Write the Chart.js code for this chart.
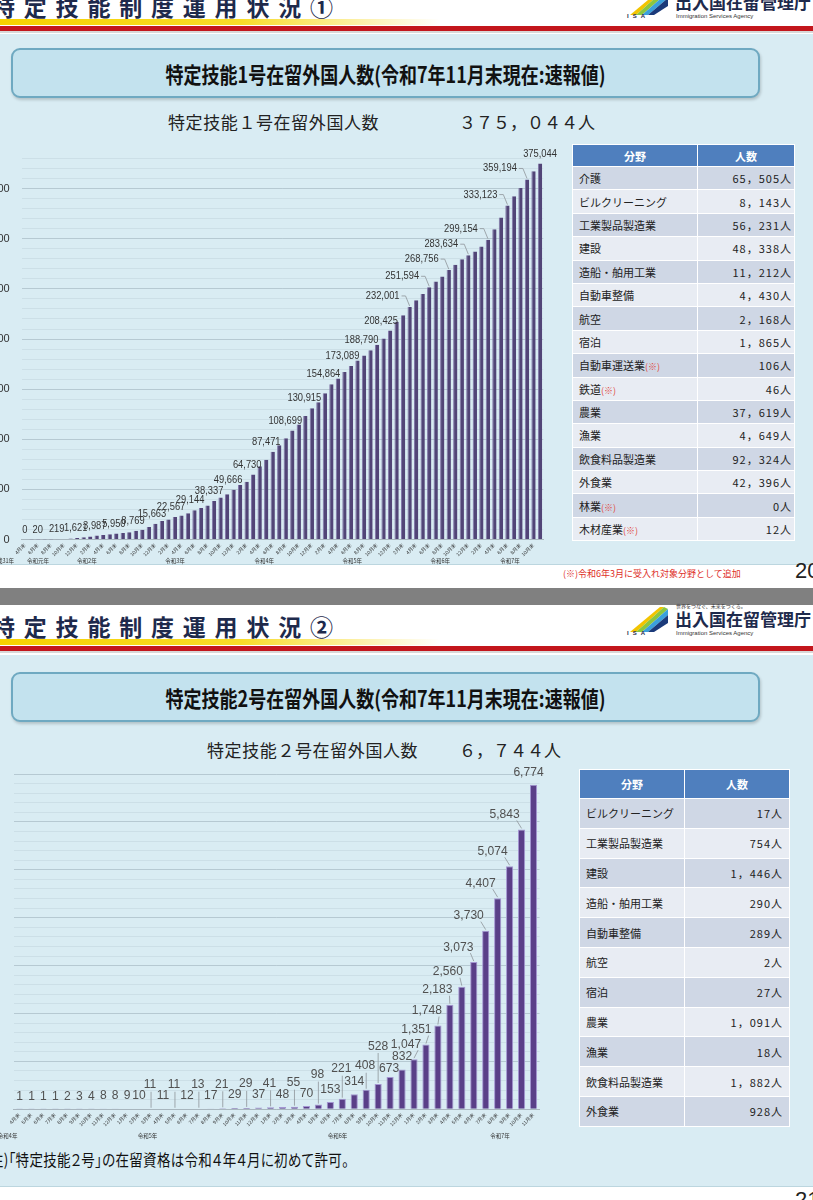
<!DOCTYPE html>
<html lang="ja">
<head>
<meta charset="utf-8">
<title>特定技能制度運用状況</title>
<script src="https://cdn.jsdelivr.net/npm/chart.js@4.4.1/dist/chart.umd.min.js"></script>
<style>
  html, body { margin: 0; padding: 0; background: #fff; }
  body { width: 813px; height: 1200px; position: relative; overflow: hidden;
         font-family: "Noto Sans CJK JP", "Noto Sans", sans-serif; color: #222; }
  .band { position: absolute; left: 0; width: 813px; background: #d9ecf3; border-bottom: 1px solid #bcd6df; }
  .title { position: absolute; left: -8px; font-size: 23px; line-height: 23px; font-weight: 700;
           letter-spacing: 8.8px; color: #1e2a4c; white-space: nowrap; }
  .yellow { position: absolute; left: 0; width: 440px; height: 6px;
            background: linear-gradient(to right, #f6d200 0%, #f8dc2a 55%, rgba(248,220,42,0) 100%); }
  .red { position: absolute; left: 0; width: 813px; height: 5px; background: #c3161c; border-bottom: 2px solid #d8d8d8; }
  .logo { position: absolute; left: 620px; width: 193px; height: 40px; }
  .logo svg { position: absolute; left: 10px; top: 7px; }
  .logo .isa { position: absolute; left: 7px; top: 30px; font: 700 6px "Liberation Sans", sans-serif; letter-spacing: 4px; color: #1e2a4c; }
  .logo .tag { position: absolute; left: 56px; top: 3px; font-size: 5px; line-height: 6px; color: #333; white-space: nowrap; }
  .logo .org { position: absolute; left: 55px; top: 9px; font-size: 17px; line-height: 20px; font-weight: 700; color: #1e2a4c; white-space: nowrap; }
  .logo .eng { position: absolute; left: 56px; top: 30px; font: 6px "Liberation Sans", sans-serif; color: #333; white-space: nowrap; }
  .box { position: absolute; left: 11px; width: 745px; height: 46px; background: #c3e2ee;
         border: 2px solid #6fa9c1; border-radius: 9px; box-shadow: 1px 2px 3px rgba(0,0,0,0.18);
         text-align: center; line-height: 46px; }
  .box span { display: inline-block; font-size: 18px; font-weight: 700; color: #111; transform: scaleY(1.22); }
  .sub { position: absolute; font-size: 17px; line-height: 20px; color: #222; white-space: nowrap; letter-spacing: 0.6px; }
  .gray { position: absolute; left: 0; top: 588px; width: 813px; height: 17px; background: #808080; }
  .foot1 { position: absolute; left: 563px; top: 567px; font-size: 9px; color: #de2f28; white-space: nowrap; }
  .page { position: absolute; left: 795px; font: 22px "Liberation Sans", sans-serif; color: #222; }
  .note2 { position: absolute; left: -15px; top: 1150px; font-size: 13.5px; line-height: 18px; color: #111;
           white-space: nowrap; transform: scaleY(1.2); transform-origin: left center; font-feature-settings: "palt"; letter-spacing: 0.3px; }
  table.tbl { position: absolute; border-collapse: collapse; table-layout: fixed; color: #222; }
  table.tbl th { background: #4f7fbe; color: #fff; font-weight: 700; font-size: 11px; border: 1px solid #fff; padding: 0; }
  table.tbl td { border: 1px solid #fff; padding: 0 6px; font-size: 11px; white-space: nowrap; }
  table.tbl tr:nth-child(odd) td { background: #cfd7e5; }
  table.tbl tr:nth-child(even) td { background: #e8ecf3; }
  table.tbl td.num { text-align: right; letter-spacing: 1px; padding-right: 2px; }
  table.tbl .mark { color: #e0463c; font-size: 9px; }
  #t1 { left: 572px; top: 144px; width: 223px; }
  #t1 th { height: 21px; }
  #t1 td { height: 22.4px; }
  #t2 { left: 579px; top: 769px; width: 211px; }
  #t2 th { height: 28px; }
  #t2 td { height: 28.8px; }
  #t2 td.num { padding-right: 6px; }
  canvas { position: absolute; }
  #chart1 { left: -40px; top: 140px; }
  #chart2 { left: 0; top: 765px; }
</style>
</head>
<body>

<!-- slide 1 -->
<div class="title" style="top:-5px">特定技能制度運用状況①</div>
<div class="yellow" style="top:19px"></div>
<div class="red" style="top:26px"></div>
<div class="logo" style="top:-17px">
  <svg width="40" height="26" viewBox="0 0 40 26">
    <polygon points="0,25 30,0 34,0 6,25" fill="#f2c400"/>
    <polygon points="6,25 34,0 38,2 12,25" fill="#8cc63f"/>
    <polygon points="12,25 38,2 38,8 18,25" fill="#3aa0dc"/>
    <polygon points="18,25 38,8 38,16 24,25" fill="#1b3a7a"/>
  </svg>
  <div class="isa">ISA</div>
  <div class="tag">世界をつなぐ、未来をつくる。</div>
  <div class="org">出入国在留管理庁</div>
  <div class="eng">Immigration Services Agency</div>
</div>
<div class="band" style="top:34px;height:530px"></div>
<div class="box" style="top:48px"><span>特定技能1号在留外国人数(令和7年11月末現在:速報値)</span></div>
<div class="sub" style="left:168px;top:112px">特定技能１号在留外国人数</div>
<div class="sub" style="left:459px;top:112px;letter-spacing:0">３７５，０４４人</div>
<table class="tbl" id="t1"><colgroup><col style="width:125px"><col></colgroup>
  <thead><tr><th>分野</th><th>人数</th></tr></thead><tbody></tbody></table>
<div class="foot1">(※)令和6年3月に受入れ対象分野として追加</div>
<div class="page" style="top:558px">20</div>
<div class="gray"></div>

<!-- slide 2 -->
<div class="title" style="top:615px">特定技能制度運用状況②</div>
<div class="yellow" style="top:639px"></div>
<div class="red" style="top:646px"></div>
<div class="logo" style="top:600px">
  <svg width="40" height="26" viewBox="0 0 40 26">
    <polygon points="0,25 30,0 34,0 6,25" fill="#f2c400"/>
    <polygon points="6,25 34,0 38,2 12,25" fill="#8cc63f"/>
    <polygon points="12,25 38,2 38,8 18,25" fill="#3aa0dc"/>
    <polygon points="18,25 38,8 38,16 24,25" fill="#1b3a7a"/>
  </svg>
  <div class="isa">ISA</div>
  <div class="tag">世界をつなぐ、未来をつくる。</div>
  <div class="org">出入国在留管理庁</div>
  <div class="eng">Immigration Services Agency</div>
</div>
<div class="band" style="top:655px;height:531px"></div>
<div class="box" style="top:672px"><span>特定技能2号在留外国人数(令和7年11月末現在:速報値)</span></div>
<div class="sub" style="left:207px;top:740px">特定技能２号在留外国人数</div>
<div class="sub" style="left:459px;top:740px;letter-spacing:0">６，７４４人</div>
<table class="tbl" id="t2"><colgroup><col style="width:105px"><col></colgroup>
  <thead><tr><th>分野</th><th>人数</th></tr></thead><tbody></tbody></table>
<div class="note2">(注)「特定技能２号」の在留資格は令和４年４月に初めて許可。</div>
<div class="page" style="top:1187px">21</div>

<canvas id="chart1" width="610" height="440"></canvas>
<canvas id="chart2" width="560" height="385"></canvas>

<script>
// month tick labels
const monthNames = ['1月末','2月末','3月末','4月末','5月末','6月末','7月末','8月末','9月末','10月末','11月末','12月末'];

// 特定技能1号: 平成31年4月末 〜 令和7年11月末 (monthly)
const months1 = [
  ...monthNames.slice(3),
  ...monthNames, ...monthNames, ...monthNames, ...monthNames, ...monthNames,
  ...monthNames.slice(0, 11)
];
const values1 = [
  0, 5, 20, 50, 100, 219, 600, 1000, 1621,
  2200, 2900, 3987, 4600, 5200, 5950, 6600, 7200, 8769, 9800, 12500, 15663,
  18400, 20000, 22567, 23900, 26200, 29144, 31500, 33800, 38337, 41900, 45200, 49666,
  54400, 57700, 64730, 73100, 79600, 87471, 94000, 100900, 108699, 114700, 123200, 130915,
  137000, 145800, 154864, 160600, 167100, 173089, 178600, 183500, 188790, 194300, 200600, 208425,
  217300, 223800, 232001, 238600, 244800, 251594, 257300, 262500, 268756, 274000, 279500, 283634,
  287400, 292300, 299154, 309400, 321200, 333123, 342500, 350700, 359194, 367400, 375044
];
// bars that carry a number
const shown1 = [0, 2, 5, 8, 11, 14, 17, 20, 23, 26, 29, 32, 35, 38, 41, 44, 47, 50, 53, 56, 59, 62, 65, 68, 71, 74, 77, 79];
const years1 = ['平成31年', '令和元年', '令和2年', '令和3年', '令和4年', '令和5年', '令和6年', '令和7年'];
const yearAt1 = [-3.4, 2, 9.5, 23, 36.7, 50.2, 63.7, 74.4];

// 特定技能2号: 令和4年4月末 〜 令和7年11月末 (monthly)
const months2 = [...monthNames.slice(3), ...monthNames, ...monthNames, ...monthNames.slice(0, 11)];
const values2 = [
  1, 1, 1, 1, 2, 3, 4, 8, 8, 9, 10,
  11, 11, 11, 12, 13, 17, 21, 29, 29, 37,
  41, 48, 55, 70, 98, 153, 221, 314, 408, 528, 673, 832,
  1047, 1351, 1748, 2183, 2560, 3073, 3730, 4407, 5074, 5843, 6774
];
const years2 = ['令和4年', '令和5年', '令和6年', '令和7年'];
const yearAt2 = [-1, 10.7, 26.6, 40.2];

// tables
const fields1 = ['介護', 'ビルクリーニング', '工業製品製造業', '建設', '造船・舶用工業', '自動車整備', '航空', '宿泊',
  '自動車運送業(※)', '鉄道(※)', '農業', '漁業', '飲食料品製造業', '外食業', '林業(※)', '木材産業(※)'];
const counts1 = [65505, 8143, 56231, 48338, 11212, 4430, 2168, 1865, 106, 46, 37619, 4649, 92324, 42396, 0, 12];
const fields2 = ['ビルクリーニング', '工業製品製造業', '建設', '造船・舶用工業', '自動車整備', '航空', '宿泊',
  '農業', '漁業', '飲食料品製造業', '外食業'];
const counts2 = [17, 754, 1446, 290, 289, 2, 27, 1091, 18, 1882, 928];

function fmtCount(n) {
  if (n < 1000) return n + '人';
  return Math.floor(n / 1000) + '，' + String(n % 1000).padStart(3, '0') + '人';
}

function fillTable(id, names, counts) {
  const tb = document.querySelector('#' + id + ' tbody');
  names.forEach((n, i) => {
    const tr = document.createElement('tr');
    tr.innerHTML = '<td>' + n.replace('(※)', '<span class="mark">(※)</span>') + '</td><td class="num">' + fmtCount(counts[i]) + '</td>';
    tb.appendChild(tr);
  });
}
fillTable('t1', fields1, counts1);
fillTable('t2', fields2, counts2);

Chart.defaults.font.family = '"Liberation Sans", "Noto Sans CJK JP", sans-serif';

// gridline values: every `step` from 0 to max (minor + major lines)
function gridTicks(max, step) {
  return s => {
    const t = [];
    for (let v = 0; v <= max; v += step) t.push({ value: v });
    s.ticks = t;
  };
}

// number labels above bars, with leader lines; text is drawn a bit condensed
function labelPlugin(indices, place, font, color, squeeze) {
  return {
    id: 'valueLabels',
    afterDatasetsDraw(chart) {
      const ctx = chart.ctx;
      const meta = chart.getDatasetMeta(0);
      const vals = chart.data.datasets[0].data;
      ctx.save();
      ctx.font = font;
      ctx.fillStyle = color;
      ctx.strokeStyle = '#8e9499';
      ctx.lineWidth = 0.8;
      ctx.textAlign = 'center';
      ctx.textBaseline = 'middle';
      indices.forEach(i => {
        const bar = meta.data[i];
        const p = place(i);
        const text = vals[i].toLocaleString('en-US');
        const w = ctx.measureText(text).width * squeeze;
        const tx = bar.x + p.dx, ty = bar.y + p.dy;
        ctx.save();
        ctx.translate(tx, ty);
        ctx.scale(squeeze, 1);
        ctx.fillText(text, 0, 0);
        ctx.restore();
        if (!p.lead) return;
        ctx.beginPath();
        if (p.lead === 'side') {
          ctx.moveTo(tx + w / 2 + 2, ty);
          ctx.lineTo(tx + w / 2 + 6, ty);
          ctx.lineTo(bar.x, bar.y - 1);
        } else if (p.lead === 'v') {
          ctx.moveTo(bar.x, ty + 7);
          ctx.lineTo(bar.x, bar.y - 1);
        } else {
          ctx.moveTo(tx + w / 2 - 3, ty + 6);
          ctx.lineTo(bar.x, bar.y - 1);
        }
        ctx.stroke();
      });
      ctx.restore();
    }
  };
}

// era labels under the month ticks
function yearPlugin(names, at, offset) {
  return {
    id: 'yearLabels',
    afterDraw(chart) {
      const ctx = chart.ctx;
      const x = chart.scales.x;
      ctx.save();
      ctx.font = '5.5px "Noto Sans CJK JP"';
      ctx.fillStyle = '#333';
      ctx.textAlign = 'center';
      ctx.textBaseline = 'middle';
      names.forEach((n, i) => ctx.fillText(n, x.getPixelForValue(at[i]), chart.chartArea.bottom + offset));
      ctx.restore();
    }
  };
}

function place1(i) {
  if (i === 79) return { dx: 0, dy: -10 };
  if (i >= 59) return { dx: -27, dy: -11, lead: 'side' };
  return { dx: -Math.min(9, i * 0.17), dy: -10 };
}

function place2(i) {
  if (i === 43) return { dx: -5, dy: -12 };
  if (i >= 33) return { dx: -Math.min(17, 8 + (i - 33) * 1.5), dy: -15, lead: 'diag' };
  if (i === 30) return { dx: 0, dy: -38, lead: 'v' };
  if (i === 31) return { dx: -1, dy: -9 };
  if (i >= 11 && i <= 29 && i % 2 === 1) return { dx: -1, dy: (i === 25 || i === 27) ? -30 : -24, lead: 'v' };
  return { dx: 0, dy: -13 };
}

const majorGrid = 'rgba(130,150,160,0.40)';
const minorGrid = 'rgba(130,150,160,0.14)';

new Chart(document.getElementById('chart1'), {
  type: 'bar',
  data: {
    labels: months1,
    datasets: [{ data: values1, backgroundColor: '#524577', borderColor: '#8277a8', borderWidth: { left: 1 },
                 barPercentage: 0.66, categoryPercentage: 1 }]
  },
  options: {
    responsive: false,
    animation: false,
    layout: { padding: { top: 12.4, right: 26.7, left: 0, bottom: 0 } },
    plugins: { legend: { display: false }, tooltip: { enabled: false } },
    scales: {
      x: {
        grid: { display: false, drawTicks: false },
        border: { display: true, color: '#a8b6be' },
        ticks: { autoSkip: false, minRotation: 45, maxRotation: 45, padding: 3, color: '#333', font: { size: 5 },
                 callback: (v, i) => (i % 2 === 0 ? months1[i] : '') },
        afterFit: s => { s.height = 40.5; }
      },
      y: {
        min: 0, max: 380000,
        border: { display: false },
        grid: { drawTicks: false, color: c => (c.tick.value % 50000 === 0 ? majorGrid : minorGrid) },
        ticks: { autoSkip: false, padding: 12, color: '#333', font: { size: 11 },
                 callback: v => (v % 50000 === 0 ? v.toLocaleString('en-US') : '') },
        afterBuildTicks: gridTicks(380000, 10000),
        afterFit: s => { s.width = 61.7; }
      }
    }
  },
  plugins: [labelPlugin(shown1, place1, '11px "Liberation Sans"', '#333', 0.85), yearPlugin(years1, yearAt1, 21.5)]
});

new Chart(document.getElementById('chart2'), {
  type: 'bar',
  data: {
    labels: months2,
    datasets: [{ data: values2, backgroundColor: '#5a3f88', borderColor: '#a496d2', borderWidth: 1,
                 barPercentage: 0.6, categoryPercentage: 1 }]
  },
  options: {
    responsive: false,
    animation: false,
    layout: { padding: { top: 9, right: 20.5, left: 0, bottom: 0 } },
    plugins: { legend: { display: false }, tooltip: { enabled: false } },
    scales: {
      x: {
        grid: { display: false, drawTicks: false },
        border: { display: true, color: '#a8b6be' },
        ticks: { autoSkip: false, minRotation: 45, maxRotation: 45, padding: 3, color: '#333', font: { size: 5 } },
        afterFit: s => { s.height = 40.7; }
      },
      y: {
        min: 0, max: 7000,
        border: { display: false },
        grid: { drawTicks: false, color: c => (c.tick.value % 1000 === 0 ? majorGrid : minorGrid) },
        ticks: { display: false, autoSkip: false },
        afterBuildTicks: gridTicks(7000, 200),
        afterFit: s => { s.width = 13.6; }
      }
    }
  },
  plugins: [labelPlugin(values2.map((v, i) => i), place2, '13px "Liberation Sans"', '#505050', 0.93), yearPlugin(years2, yearAt2, 26.7)]
});
</script>
</body>
</html>
